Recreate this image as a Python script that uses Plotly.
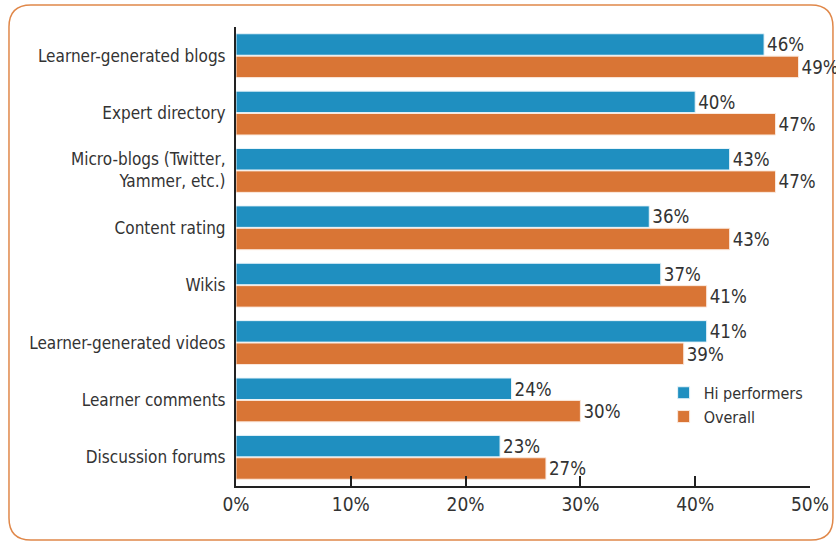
import plotly.graph_objects as go

categories = ["Learner-generated blogs", "Expert directory", "Micro-blogs (Twitter,<br>Yammer, etc.)",
              "Content rating", "Wikis", "Learner-generated videos", "Learner comments", "Discussion forums"]
hi_performers = [46, 40, 43, 36, 37, 41, 24, 23]
overall = [49, 47, 47, 43, 41, 39, 30, 27]
x_ticks = [0, 10, 20, 30, 40, 50]
x_tick_labels = ["0%", "10%", "20%", "30%", "40%", "50%"]

BLUE = "#1f8fc0"
ORANGE = "#d97535"
FONT = "Liberation Sans Narrow, DejaVu Sans Condensed, sans-serif"
TXT = "#333333"

fig = go.Figure()
fig.add_trace(go.Bar(
    y=categories, x=hi_performers, orientation="h", name="Hi performers", legendgroup="a",
    marker=dict(color=BLUE, line=dict(color="#e8f4fa", width=1)),
    text=[f"{v}%" for v in hi_performers], textposition="outside",
    textfont=dict(family=FONT, size=19, color=TXT), cliponaxis=False,
))
fig.add_trace(go.Bar(
    y=categories, x=overall, orientation="h", name="Overall", legendgroup="b",
    marker=dict(color=ORANGE, line=dict(color="#fbe9dd", width=1)),
    text=[f"{v}%" for v in overall], textposition="outside",
    textfont=dict(family=FONT, size=19, color=TXT), cliponaxis=False,
))

# rounded border in paper coordinates
L, R, T, B = -0.3955, 1.040, 1.048, -0.1176
rx, ry = 22 / 574, 22 / 459
path = (f"M {L+rx},{T} L {R-rx},{T} Q {R},{T} {R},{T-ry} L {R},{B+ry} Q {R},{B} {R-rx},{B} "
        f"L {L+rx},{B} Q {L},{B} {L},{B+ry} L {L},{T-ry} Q {L},{T} {L+rx},{T} Z")

fig.update_layout(
    width=836, height=542,
    margin=dict(l=236, r=26, t=27, b=56),
    paper_bgcolor="white", plot_bgcolor="white",
    barmode="group", bargap=0.22, bargroupgap=0.04,
    font=dict(family=FONT, size=17, color=TXT),
    showlegend=True,
    legend=dict(x=0.745, y=0.24, xanchor="left", yanchor="top",
                font=dict(family=FONT, size=16, color=TXT), tracegroupgap=8,
                bgcolor="rgba(0,0,0,0)", traceorder="normal", itemwidth=30),
    shapes=[dict(type="path", xref="paper", yref="paper", path=path,
                 line=dict(color="#e0884a", width=1.5), layer="below")],
)
fig.update_xaxes(range=[0, 50], tickvals=x_ticks, ticktext=x_tick_labels, automargin=False,
                 showgrid=False, zeroline=False, showline=True, linecolor="#222222", linewidth=2,
                 ticks="inside", ticklen=10, tickwidth=1.5, tickcolor="#222222",
                 tickfont=dict(family=FONT, size=19, color=TXT))
fig.update_yaxes(autorange="reversed", showgrid=False, zeroline=False, showline=True, automargin=False,
                 linecolor="#222222", linewidth=2, ticks="", ticklabelstandoff=5,
                 tickfont=dict(family=FONT, size=17, color=TXT))

fig.write_html("out.html")
